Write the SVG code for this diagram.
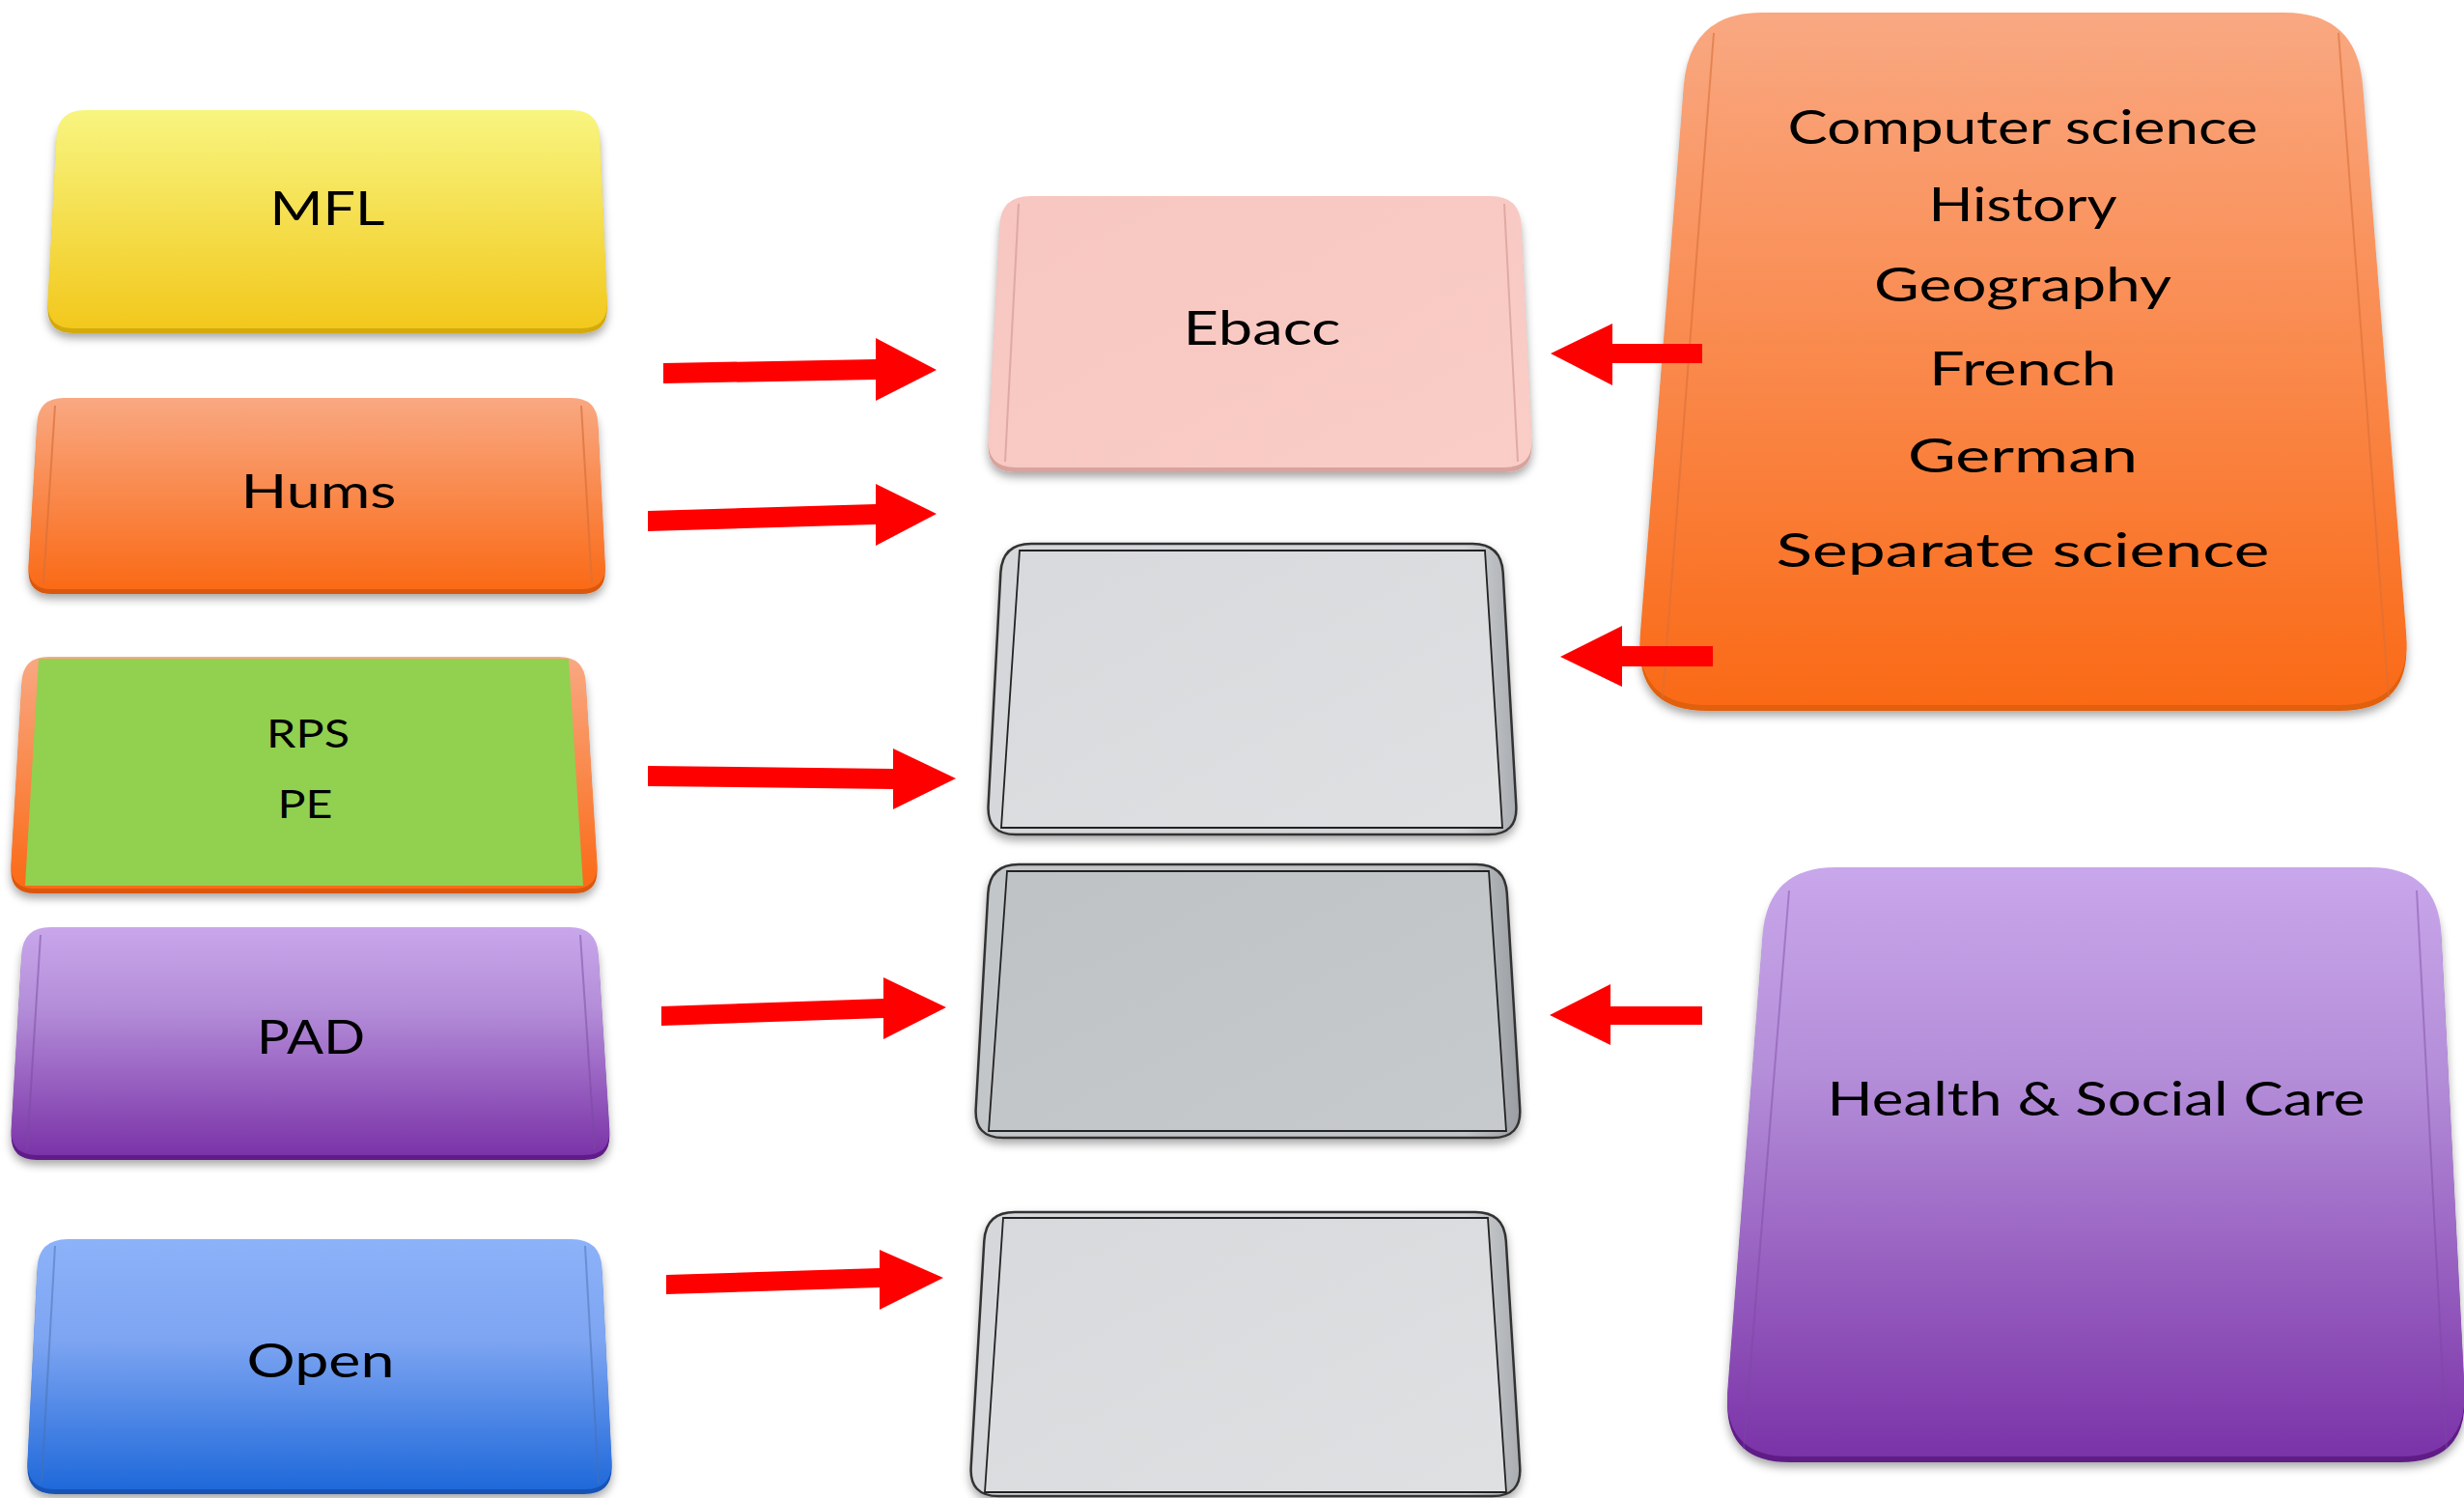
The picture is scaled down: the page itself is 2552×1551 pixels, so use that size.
<svg xmlns="http://www.w3.org/2000/svg" width="2552" height="1551" viewBox="0 0 2552 1551">
<defs>
<style>
.lbl{font-family:Lato,"Open Sans","Liberation Sans",sans-serif;fill:#000;text-anchor:middle;font-size:48px}
.sm{font-size:40px}
.edge{fill:none;stroke-width:2}
.arrow{fill:#FF0000}
.gout{stroke:#333;stroke-width:2.5}
.gin{stroke:#222;stroke-width:1.8}
</style>
<filter id="sh" x="-10%" y="-10%" width="120%" height="125%">
<feDropShadow dx="0" dy="5" stdDeviation="5" flood-color="#000" flood-opacity="0.35"/>
</filter>
<linearGradient id="gYel" x1="0" y1="0" x2="0" y2="1"><stop offset="0" stop-color="#F8F580"/><stop offset="1" stop-color="#F2C81C"/></linearGradient>
<linearGradient id="gOra" x1="0" y1="0" x2="0" y2="1"><stop offset="0" stop-color="#F9A882"/><stop offset="1" stop-color="#FA6A16"/></linearGradient>
<linearGradient id="gPur" x1="0" y1="0" x2="0" y2="1"><stop offset="0" stop-color="#C9A7EB"/><stop offset="0.35" stop-color="#B48ED9"/><stop offset="1" stop-color="#7B33A8"/></linearGradient>
<linearGradient id="gBlu" x1="0" y1="0" x2="0" y2="1"><stop offset="0" stop-color="#8CB2F9"/><stop offset="0.4" stop-color="#7EA5F2"/><stop offset="1" stop-color="#1F69DA"/></linearGradient>
<linearGradient id="gPink" x1="0" y1="0" x2="1" y2="1"><stop offset="0" stop-color="#F7C6C0"/><stop offset="1" stop-color="#FACDC7"/></linearGradient>
<linearGradient id="gGreyO" x1="0" y1="0" x2="1" y2="0"><stop offset="0" stop-color="#D6D7DA"/><stop offset="0.9" stop-color="#D3D5D8"/><stop offset="1" stop-color="#A9ACB0"/></linearGradient>
<linearGradient id="gGreyI" x1="0" y1="0" x2="1" y2="1"><stop offset="0" stop-color="#D8D9DC"/><stop offset="1" stop-color="#DFE0E2"/></linearGradient>
<linearGradient id="gGrey2O" x1="0" y1="0" x2="1" y2="0"><stop offset="0" stop-color="#C3C6C9"/><stop offset="0.9" stop-color="#C1C4C7"/><stop offset="1" stop-color="#9A9DA1"/></linearGradient>
<linearGradient id="gGrey2I" x1="0" y1="0" x2="1" y2="1"><stop offset="0" stop-color="#BFC2C5"/><stop offset="1" stop-color="#C7CACD"/></linearGradient>
</defs>
<rect width="2552" height="1551" fill="#FFFFFF"/>

<g id="mfl">
<path transform="translate(0,5)" filter="url(#sh)" fill="#D3A90C" d="M88,114 L592,114 Q620,114 621.2,142 L628.8,312 Q630,340 602,340 L76,340 Q48,340 49.5,312 L58.5,142 Q60,114 88,114 Z"/>
<path fill="url(#gYel)" d="M88,114 L592,114 Q620,114 621.2,142 L628.8,312 Q630,340 602,340 L76,340 Q48,340 49.5,312 L58.5,142 Q60,114 88,114 Z"/>
<text class="lbl" x="339" y="233" textLength="119" lengthAdjust="spacingAndGlyphs">MFL</text>
</g>

<g id="hums">
<path transform="translate(0,5)" filter="url(#sh)" fill="#D9580F" d="M66,412 L592,412 Q618,412 619.3,438 L626.7,584 Q628,610 602,610 L54,610 Q28,610 29.6,584 L38.4,438 Q40,412 66,412 Z"/>
<path fill="url(#gOra)" d="M66,412 L592,412 Q618,412 619.3,438 L626.7,584 Q628,610 602,610 L54,610 Q28,610 29.6,584 L38.4,438 Q40,412 66,412 Z"/>
<path class="edge" stroke="#D8703A" stroke-opacity="0.7" d="M57,420 L45,604 M602,420 L613,604"/>
<text class="lbl" x="330" y="526" textLength="161" lengthAdjust="spacingAndGlyphs">Hums</text>
</g>

<g id="rps">
<path transform="translate(0,5)" filter="url(#sh)" fill="#D9580F" d="M50,680 L579,680 Q605,680 606.6,706 L618.4,894 Q620,920 594,920 L36,920 Q10,920 11.5,894 L22.5,706 Q24,680 50,680 Z"/>
<path fill="url(#gOra)" d="M50,680 L579,680 Q605,680 606.6,706 L618.4,894 Q620,920 594,920 L36,920 Q10,920 11.5,894 L22.5,706 Q24,680 50,680 Z"/>
<polygon fill="#92D050" points="40,682 589,682 604,917 26,917"/>
<text class="lbl sm" x="319" y="774" textLength="86" lengthAdjust="spacingAndGlyphs">RPS</text>
<text class="lbl sm" x="316" y="847" textLength="57" lengthAdjust="spacingAndGlyphs">PE</text>
</g>

<g id="pad">
<path transform="translate(0,5)" filter="url(#sh)" fill="#5E1F86" d="M52,960 L590,960 Q618,960 619.8,988 L631.2,1168 Q633,1196 605,1196 L38,1196 Q10,1196 11.7,1168 L22.3,988 Q24,960 52,960 Z"/>
<path fill="url(#gPur)" d="M52,960 L590,960 Q618,960 619.8,988 L631.2,1168 Q633,1196 605,1196 L38,1196 Q10,1196 11.7,1168 L22.3,988 Q24,960 52,960 Z"/>
<path class="edge" stroke="#7A4AA0" stroke-opacity="0.5" d="M42,968 L28,1190 M601,968 L616,1190"/>
<text class="lbl" x="322" y="1091" textLength="112" lengthAdjust="spacingAndGlyphs">PAD</text>
</g>

<g id="open">
<path transform="translate(0,5)" filter="url(#sh)" fill="#1753B5" d="M70,1283 L592,1283 Q622,1283 623.5,1313 L633.5,1512 Q635,1542 605,1542 L57,1542 Q27,1542 28.5,1512 L38.5,1313 Q40,1283 70,1283 Z"/>
<path fill="url(#gBlu)" d="M70,1283 L592,1283 Q622,1283 623.5,1313 L633.5,1512 Q635,1542 605,1542 L57,1542 Q27,1542 28.5,1512 L38.5,1313 Q40,1283 70,1283 Z"/>
<path class="edge" stroke="#4A6FB0" stroke-opacity="0.5" d="M57,1290 L43,1536 M606,1290 L620,1536"/>
<text class="lbl" x="332" y="1426" textLength="153" lengthAdjust="spacingAndGlyphs">Open</text>
</g>

<g id="ebacc">
<path transform="translate(0,5)" filter="url(#sh)" fill="#D9A29C" d="M1067,203 L1544,203 Q1574,203 1575.5,233 L1586.5,454 Q1588,484 1558,484 L1052,484 Q1022,484 1023.6,454 L1035.4,233 Q1037,203 1067,203 Z"/>
<path fill="url(#gPink)" d="M1067,203 L1544,203 Q1574,203 1575.5,233 L1586.5,454 Q1588,484 1558,484 L1052,484 Q1022,484 1023.6,454 L1035.4,233 Q1037,203 1067,203 Z"/>
<path class="edge" stroke="#D9A19B" stroke-opacity="0.8" d="M1055,211 L1041,478 M1558,211 L1572,478"/>
<text class="lbl" x="1307" y="357" textLength="163" lengthAdjust="spacingAndGlyphs">Ebacc</text>
</g>

<g id="slot1">
<path filter="url(#sh)" class="gout" fill="url(#gGreyO)" d="M1068,563 L1525,563 Q1555,563 1556.7,593 L1570.3,834 Q1572,864 1542,864 L1052,864 Q1022,864 1023.6,834 L1036.4,593 Q1038,563 1068,563 Z"/>
<polygon class="gin" fill="url(#gGreyI)" points="1056,570 1538,570 1556,857 1037,857"/>
</g>

<g id="slot2">
<path filter="url(#sh)" class="gout" fill="url(#gGrey2O)" d="M1055,895 L1529,895 Q1559,895 1560.8,925 L1574.2,1148 Q1576,1178 1546,1178 L1039,1178 Q1009,1178 1010.7,1148 L1023.3,925 Q1025,895 1055,895 Z"/>
<polygon class="gin" fill="url(#gGrey2I)" points="1043,902 1542,902 1560,1171 1024,1171"/>
</g>

<g id="slot3">
<path filter="url(#sh)" class="gout" fill="url(#gGreyO)" d="M1051,1255 L1528,1255 Q1558,1255 1559.8,1285 L1574.2,1519 Q1576,1549 1546,1549 L1034,1549 Q1004,1549 1005.7,1519 L1019.3,1285 Q1021,1255 1051,1255 Z"/>
<polygon class="gin" fill="url(#gGreyI)" points="1039,1261 1541,1261 1560,1545 1020,1545"/>
</g>

<g id="ebacc-subjects">
<path transform="translate(0,6)" filter="url(#sh)" fill="#E0600F" d="M1825,13 L2366,13 Q2441,13 2447,88 L2492,655 Q2498,730 2423,730 L1768,730 Q1693,730 1699,655 L1744,88 Q1750,13 1825,13 Z"/>
<path fill="url(#gOra)" d="M1825,13 L2366,13 Q2441,13 2447,88 L2492,655 Q2498,730 2423,730 L1768,730 Q1693,730 1699,655 L1744,88 Q1750,13 1825,13 Z"/>
<path class="edge" stroke="#D8703A" stroke-opacity="0.6" d="M1775,34 L1722,722 M2422,34 L2474,722"/>
<text class="lbl" x="2095" y="149" textLength="487" lengthAdjust="spacingAndGlyphs">Computer science</text>
<text class="lbl" x="2095" y="229" textLength="195" lengthAdjust="spacingAndGlyphs">History</text>
<text class="lbl" x="2095" y="312" textLength="308" lengthAdjust="spacingAndGlyphs">Geography</text>
<text class="lbl" x="2095" y="399" textLength="194" lengthAdjust="spacingAndGlyphs">French</text>
<text class="lbl" x="2095" y="489" textLength="238" lengthAdjust="spacingAndGlyphs">German</text>
<text class="lbl" x="2095" y="587" textLength="511" lengthAdjust="spacingAndGlyphs">Separate science</text>
</g>

<g id="hsc">
<path transform="translate(0,6)" filter="url(#sh)" fill="#5E1F86" d="M1901,898 L2455,898 Q2525,898 2528.5,968 L2552.5,1438 Q2556,1508 2486,1508 L1854,1508 Q1784,1508 1789.4,1438 L1825.6,968 Q1831,898 1901,898 Z"/>
<path fill="url(#gPur)" d="M1901,898 L2455,898 Q2525,898 2528.5,968 L2552.5,1438 Q2556,1508 2486,1508 L1854,1508 Q1784,1508 1789.4,1438 L1825.6,968 Q1831,898 1901,898 Z"/>
<path class="edge" stroke="#7A4AA0" stroke-opacity="0.45" d="M1853,922 L1806,1500 M2503,922 L2534,1500"/>
<text class="lbl" x="2171" y="1155" textLength="557" lengthAdjust="spacingAndGlyphs">Health &amp; Social Care</text>
</g>

<g id="connectors">
<polygon class="arrow" points="687,376 907,372 907,350 970,383 907,415 907,393 687,397"/>
<polygon class="arrow" points="671,529 907,522 907,501 970,532 907,565 907,543 671,550"/>
<polygon class="arrow" points="671,793 925,796 925,775 990,806 925,838 925,817 671,814"/>
<polygon class="arrow" points="685,1042 915,1034 915,1012 980,1043 915,1076 915,1054 685,1062"/>
<polygon class="arrow" points="690,1320 911,1313 911,1294 977,1323 911,1356 911,1333 690,1340"/>
<polygon class="arrow" points="1763,356 1670,356 1670,335 1606,366 1670,399 1670,376 1763,376"/>
<polygon class="arrow" points="1774,669 1680,669 1680,648 1616,680 1680,711 1680,690 1774,690"/>
<polygon class="arrow" points="1763,1042 1668,1042 1668,1019 1605,1051 1668,1082 1668,1061 1763,1061"/>
</g>
</svg>
